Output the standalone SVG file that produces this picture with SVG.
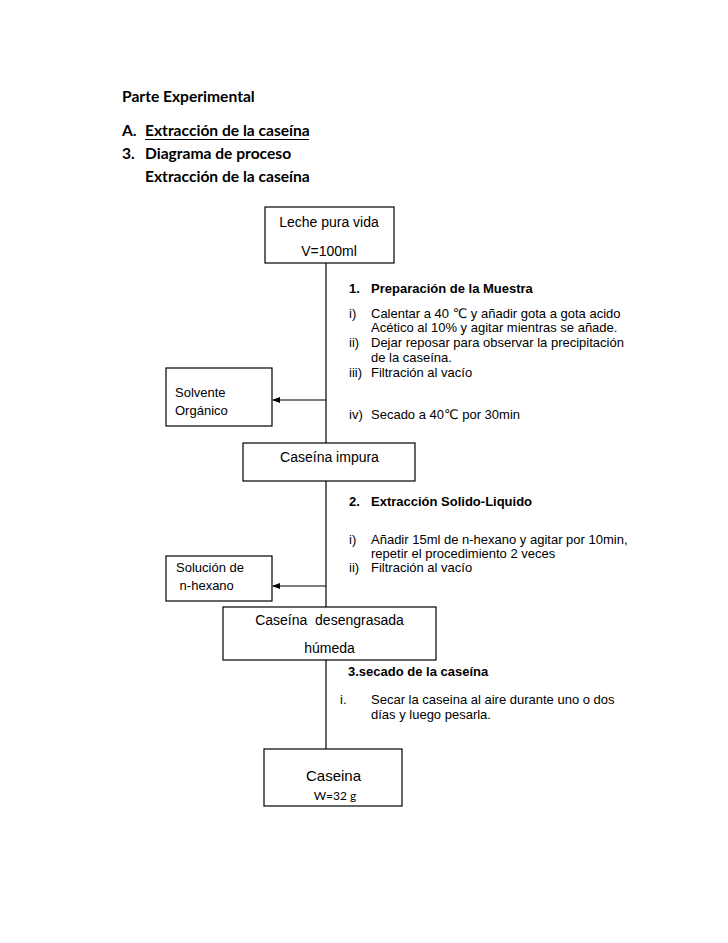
<svg xmlns="http://www.w3.org/2000/svg" width="728" height="943" viewBox="0 0 728 943">
<style>
.h{font-family:Lato,"Liberation Sans",sans-serif;font-weight:bold;font-size:15.6px;fill:#000}
.t{font-family:"Liberation Sans",Arial,"DejaVu Sans",sans-serif;font-size:13px;fill:#000}
.b{font-family:"Liberation Sans",Arial,"DejaVu Sans",sans-serif;font-size:13px;font-weight:bold;fill:#000}
.n{font-family:"Liberation Sans",Arial,sans-serif;font-size:14px;fill:#000}
.box{fill:#fff;stroke:#000;stroke-width:1.2}
.ln{stroke:#000;stroke-width:1.2;fill:none}
</style>
<defs>
<marker id="ah" markerWidth="8" markerHeight="6" refX="7" refY="3" orient="auto" markerUnits="userSpaceOnUse">
<path d="M0,0 L8,3 L0,6 Z" fill="#000"/>
</marker>
</defs>
<rect width="728" height="943" fill="#fff"/>
<g id="header">
<text class="h" x="122" y="102">Parte Experimental</text>
<text class="h" x="122" y="136">A.</text>
<text class="h" x="145" y="136">Extracción de la caseína</text>
<line x1="145" y1="139.5" x2="309" y2="139.5" stroke="#000" stroke-width="1.2"/>
<text class="h" x="122" y="159">3.</text>
<text class="h" x="145" y="159">Diagrama de proceso</text>
<text class="h" x="145" y="182">Extracción de la caseína</text>
</g>
<g id="connectors">
<line class="ln" x1="326" y1="263" x2="326" y2="443"/>
<line class="ln" x1="326" y1="400" x2="273" y2="400" marker-end="url(#ah)"/>
<line class="ln" x1="326" y1="481" x2="326" y2="607"/>
<line class="ln" x1="326" y1="586" x2="273" y2="586" marker-end="url(#ah)"/>
<line class="ln" x1="326" y1="660" x2="326" y2="749"/>
</g>
<g id="leche">
<rect class="box" x="265" y="207" width="129" height="56"/>
<text class="n" x="329" y="227" text-anchor="middle">Leche pura vida</text>
<text class="n" x="329" y="256" text-anchor="middle">V=100ml</text>
</g>
<g id="solvente">
<rect class="box" x="166" y="368" width="106" height="58"/>
<text class="t" x="175" y="397">Solvente</text>
<text class="t" x="175" y="415">Orgánico</text>
</g>
<g id="impura">
<rect class="box" x="243" y="443" width="172" height="38"/>
<text class="n" x="329.5" y="462" text-anchor="middle">Caseína impura</text>
</g>
<g id="solucion">
<rect class="box" x="166" y="556" width="106" height="45"/>
<text class="t" x="176" y="572">Solución de</text>
<text class="t" x="176" y="590" xml:space="preserve"> n-hexano</text>
</g>
<g id="desengrasada">
<rect class="box" x="223" y="607" width="213" height="53"/>
<text class="n" x="329.5" y="625" text-anchor="middle" xml:space="preserve">Caseína  desengrasada</text>
<text class="n" x="329.5" y="653" text-anchor="middle">húmeda</text>
</g>
<g id="caseina">
<rect class="box" x="264" y="749" width="138" height="57"/>
<text class="n" x="333.5" y="781" text-anchor="middle" style="font-size:15px">Caseina</text>
<text x="335" y="800" text-anchor="middle" style="font-family:Lato,'Liberation Sans',sans-serif;font-size:12px">W=32 g</text>
</g>
<g id="step1">
<text class="b" x="349" y="293">1.</text>
<text class="b" x="371" y="293">Preparación de la Muestra</text>
<text class="t" x="349" y="318">i)</text>
<text class="t" x="371" y="318">Calentar a 40 ℃ y añadir gota a gota acido</text>
<text class="t" x="371" y="332">Acético al 10% y agitar mientras se añade.</text>
<text class="t" x="349" y="347">ii)</text>
<text class="t" x="371" y="347">Dejar reposar para observar la precipitación</text>
<text class="t" x="371" y="362">de la caseína.</text>
<text class="t" x="349" y="377">iii)</text>
<text class="t" x="371" y="377">Filtración al vacío</text>
<text class="t" x="349" y="419">iv)</text>
<text class="t" x="371" y="419">Secado  a 40℃ por 30min</text>
</g>
<g id="step2">
<text class="b" x="349" y="506">2.</text>
<text class="b" x="371" y="506">Extracción Solido-Liquido</text>
<text class="t" x="349" y="544">i)</text>
<text class="t" x="371" y="544">Añadir 15ml de n-hexano y agitar por 10min,</text>
<text class="t" x="371" y="558">repetir el procedimiento 2 veces</text>
<text class="t" x="349" y="572">ii)</text>
<text class="t" x="371" y="572">Filtración al vacío</text>
</g>
<g id="step3">
<text class="b" x="348" y="676">3.secado de la caseína</text>
<text class="t" x="340" y="704">i.</text>
<text class="t" x="371" y="704">Secar la caseina al aire durante uno o dos</text>
<text class="t" x="371" y="719">días y luego pesarla.</text>
</g>
</svg>
